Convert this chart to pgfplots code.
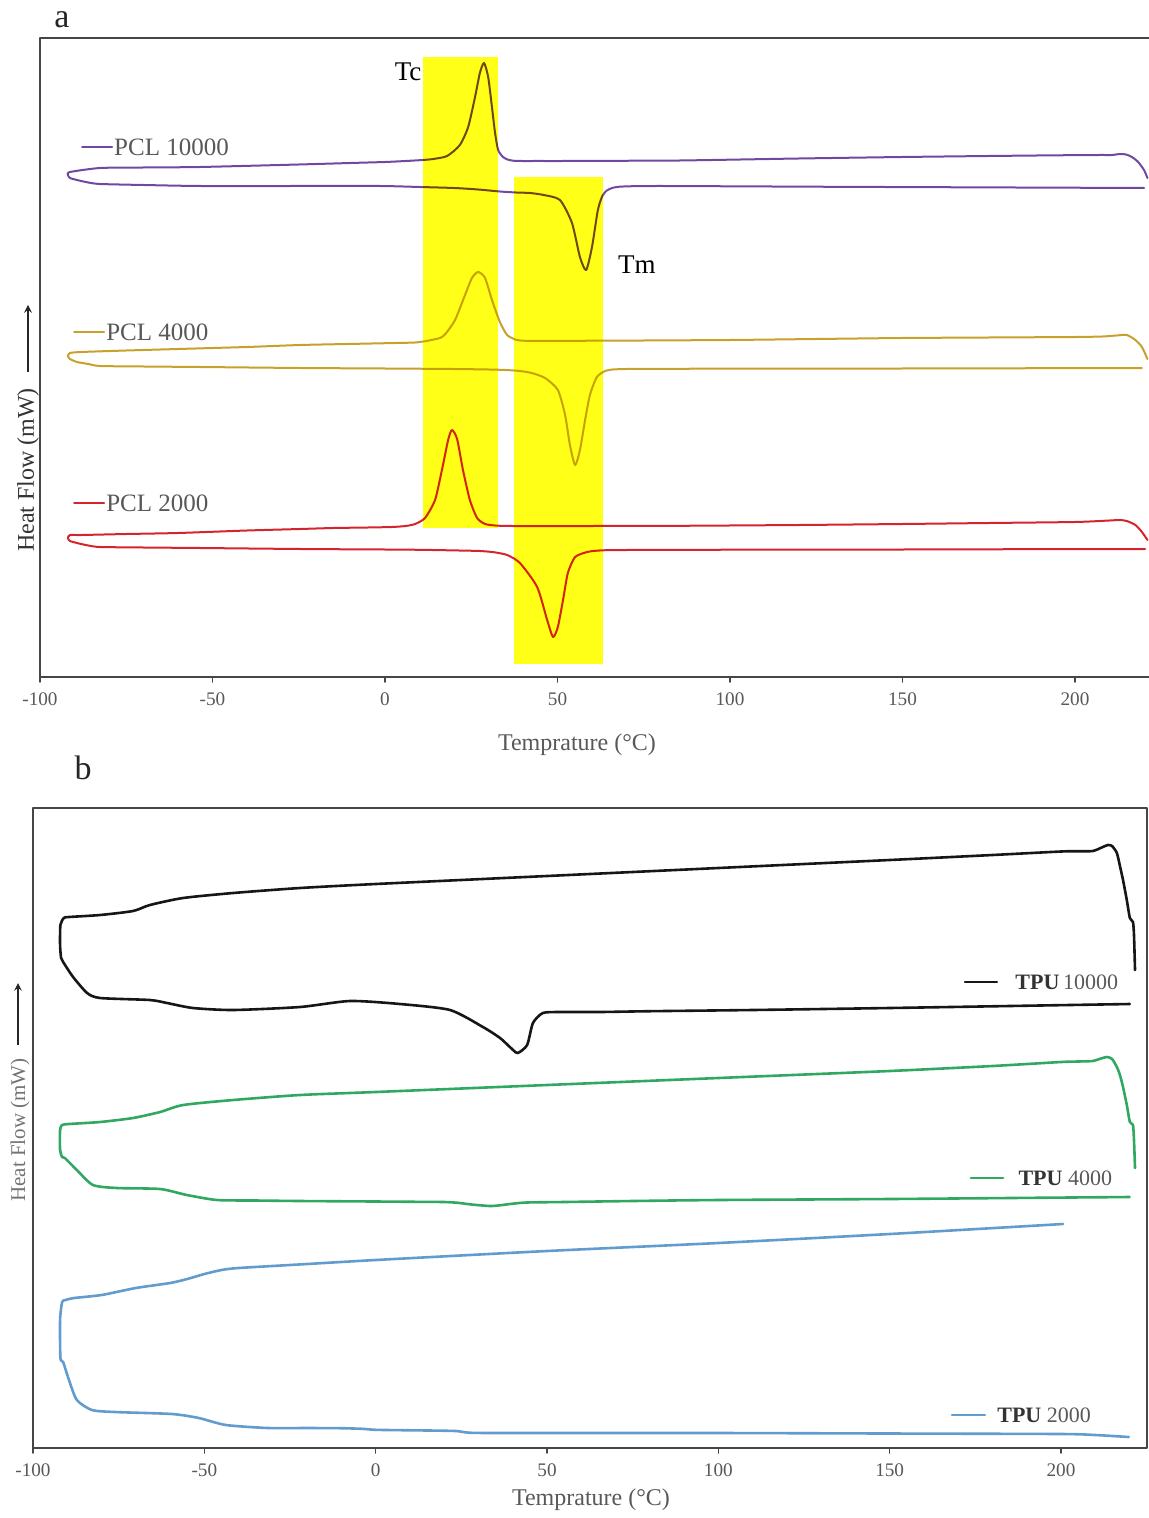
\documentclass[border=0pt]{standalone}
\usepackage{fontspec}
\setmainfont{Liberation Serif}
\usepackage{pgfplots}
\pgfplotsset{compat=1.18}
\definecolor{cpa}{RGB}{112,72,160}
\definecolor{cpb}{RGB}{198,162,42}
\definecolor{cpc}{RGB}{212,36,44}
\definecolor{hy}{RGB}{255,255,24}
\definecolor{tk}{RGB}{22,22,22}
\definecolor{tg}{RGB}{48,168,98}
\definecolor{tb}{RGB}{98,156,206}
\definecolor{axg}{RGB}{70,70,70}
\definecolor{txg}{RGB}{88,88,88}
\pgfplotsset{
  common/.style={
    scale only axis, anchor=south west,
    xtick={-100,-50,0,50,100,150,200},
    xticklabels={-100,-50,0,50,100,150,200},
    ytick=\empty, xtick pos=bottom, tick align=outside,
    major tick length=2.5pt,
    axis line style={line width=0.9pt, draw=axg},
    every tick/.style={line width=0.8pt, draw=axg},
    xticklabel style={font=\fontsize{9.6}{11}\selectfont, text=txg, yshift=-2pt},
    line join=round, line cap=round,
  },
  crv/.style={smooth, tension=0.4},
}
\begin{document}
\begin{tikzpicture}
\useasboundingbox (0,0) rectangle (574.5pt,-759pt);
% ---------------- panel a ----------------
\begin{axis}[common, at={(20pt,-338.5pt)}, width=555.5pt, height=319.5pt,
  xmin=-100, xmax=222.03, ymin=0, ymax=639]
\addplot[cpa, crv, line width=1pt] coordinates {
(221.0,499) (220.0,507) (218.3,515) (216.5,520) (214.8,522.5) (213.0,523) (210.7,522) (207.2,522)
(195,521.7) (175,521) (150,520) (120,518.5) (85.5,516.5) (65,516.2) (52,516) (44,516) (39.5,516) (37.1,516.3)
(35.5,517.5) (34.2,520) (32.8,527) (31.9,544) (31,570) (29.9,600) (28.7,614)
(27.5,604) (26.1,580) (24.1,550) (21.7,532) (18,521) (14,518) (11,517) (6,516) (0,515) (-10,514) (-25,512.5)
(-53.6,510) (-70,509.5) (-82.6,509)
(-91.3,505) (-91.9,502) (-91.3,499) (-89.3,497) (-86,494.5) (-82.6,493) (-70,492) (-53.6,491) (-25,491) (-1.4,491)
(10,490) (20,489) (27,487.5) (33.3,485.5) (38,484.5) (42,484) (46,482) (50.7,477) (54.2,454) (56.5,420) (58.3,407) (60.0,430) (61.7,467)
(63,481) (64.3,486.5) (66,489.2) (68,490.3) (72,490.8) (80,491) (100,490.7) (130,490.2) (160,489.8) (190,489.4) (220,489)};
\addplot[cpb, crv, line width=1pt] coordinates {
(221.0,318) (219.4,330) (217.5,337) (215,342) (212,341.5) (208,340.5) (200,340) (175,339.5) (150,339) (125,338) (100,337)
(75,336.5) (55,336.2) (45,336) (40.5,336.2) (38,337.2) (35.4,342) (33.3,355) (31,377) (29,399) (27,405) (25.2,399) (23.2,382) (20.3,357)
(17.5,343) (15.9,339) (12,336) (8.7,334.5) (3,334) (-8,333.2) (-24.6,332) (-40,330) (-60,328) (-75,326.5) (-88,325) (-91.3,324) (-91.9,321) (-91.3,318) (-89.3,315)
(-86,313) (-82.6,311) (-70,310.5) (-53.6,310) (-24.6,309) (0,308.5) (20,308) (30,307.5) (35,307) (39.1,306) (42.5,304) (46.4,299) (50.1,287)
(52.2,262) (53.6,232) (55.1,212) (56.5,227) (58,257) (59.4,282) (61.4,300) (63.8,306) (66,307.5) (70,308) (80,308.2) (100,308.3)
(150,308.5) (219.4,309)};
\addplot[cpc, crv, line width=1pt] coordinates {
(221.0,137) (219.4,145) (217.5,152) (215,156) (213,157) (210,156.5) (200,155) (175,154) (150,153) (120,152) (85.5,151.2)
(60,151) (45,151) (37,151) (33.5,151.2) (31.9,151.5) (29,153) (26.7,159) (24.6,177) (22.6,207) (20.9,238) (19.4,247) (18.3,237) (16.5,207)
(14.5,177) (11.6,159) (8.7,153) (6,151) (2,150) (-5,149.5) (-15,149) (-24.6,148) (-40,146.5) (-60,144) (-75,143) (-88,142) (-91.3,142) (-91.9,139)
(-91.3,136) (-89.3,134) (-86,131.5) (-82.6,130) (-70,129.5) (-53.6,129) (-24.6,128) (0,127.5) (10,127.2) (20,126.6) (27.5,126) (31.5,124.8)
(35.4,122) (39.1,114) (44.1,90) (47.0,57) (48.7,40) (50.1,50) (51.6,77) (53.0,104) (55.1,120)
(58.6,125) (61,126.2) (64,126.8) (70,127) (85,127.2) (110,127.3) (150,127.5) (185,127.8) (220.3,128)};
% highlight boxes
\addplot[draw=none, fill=hy, blend mode=multiply] coordinates {(11.0,149) (32.8,149) (32.8,620) (11.0,620)} -- cycle;
\addplot[draw=none, fill=hy, blend mode=multiply] coordinates {(37.4,13) (63.2,13) (63.2,500) (37.4,500)} -- cycle;
% labels beside curves
\addplot[cpa, line width=1pt] coordinates {(-87.8,530) (-79.1,530)};
\addplot[cpb, line width=1pt] coordinates {(-90.1,345) (-81.4,345)};
\addplot[cpc, line width=1pt] coordinates {(-90.1,174) (-81.4,174)};
\node[anchor=west, inner sep=0pt, text=txg, font=\fontsize{12.5}{14}\selectfont] at (axis cs:-78.6,530) {PCL 10000};
\node[anchor=west, inner sep=0pt, text=txg, font=\fontsize{12.5}{14}\selectfont] at (axis cs:-80.9,345) {PCL 4000};
\node[anchor=west, inner sep=0pt, text=txg, font=\fontsize{12.5}{14}\selectfont] at (axis cs:-80.9,174) {PCL 2000};
\node[inner sep=0pt, font=\fontsize{13.5}{15}\selectfont] at (axis cs:6.7,605) {Tc};
\node[inner sep=0pt, font=\fontsize{13.5}{15}\selectfont] at (axis cs:73.0,412) {Tm};
\end{axis}
% ---------------- panel b ----------------
\begin{axis}[common, at={(16.5pt,-724pt)}, width=557pt, height=320pt,
  xmin=-100, xmax=225.1, ymin=0, ymax=640]
\addplot[tk, crv, line width=1.3pt] coordinates {
(221.6,478) (221.3,513) (221.0,526) (220.1,530) (219.2,548) (218.1,568) (217.2,582) (216.3,595)
(214.9,602) (213.7,603) (212.2,601) (209.3,597) (205,596.8) (200,596.5) (180,593) (150,588) (100,580) (50,572) (0,564)
(-22.1,560) (-41.6,555) (-56.2,550) (-65.9,543) (-70.8,537) (-80.4,533) (-89.5,531) (-91,530)
(-92,523) (-92.1,503) (-91.8,490) (-91.2,486) (-88.3,471) (-84.2,455) (-80.4,450) (-65.9,448)
(-60.9,445) (-53.3,440) (-41.6,438) (-22.1,441) (-7.5,447) (7.1,444) (21.7,438) (31.3,421)
(36.3,410) (40.1,398) (41.5,395) (44.2,403) (45.9,425) (48.8,435) (53.8,436) (65.5,436) (80,436.8) (110,438) (150,440)
(185,442) (220.1,444)};
\addplot[tg, crv, line width=1.3pt] coordinates {
(221.6,280) (221.3,308) (221.0,323) (220.1,326) (219.2,343) (218.1,361) (217.2,373) (216.3,381)
(214.9,389) (213.4,391) (211.2,389) (209.3,387) (205,386.5) (200,386) (180,382) (150,377) (100,370) (50,363) (0,356)
(-22.1,353) (-41.6,348) (-56.2,343) (-62.9,336) (-70.8,330) (-80.4,326) (-89.5,324) (-91.5,323)
(-92.1,318) (-92.1,298) (-91.5,291) (-90.7,290) (-87.2,278) (-82.5,263) (-75.5,260) (-62.9,259)
(-55.1,253) (-46.3,248) (-35,247.5) (-22.1,247) (0,246.5) (12,246.2) (20,246) (24,245.2) (28,243.5) (33.4,242) (36.5,242.8) (39.2,244) (44,245.5) (55,246) (75,247) (100,248)
(150,249) (185,250) (220,251)};
\addplot[tb, crv, line width=1.3pt] coordinates {
(200.6,224) (150,214) (100,205) (50,197) (0,188) (-20,184) (-40,180) (-45,178) (-50,174) (-55,169)
(-60,165) (-70,160) (-80,153) (-88,150) (-90.5,148) (-91.5,146) (-92.1,128) (-92,90) (-91.2,86)
(-89.5,68) (-87.2,48) (-82.8,38) (-76.1,36) (-59.4,34) (-51.6,30) (-43.7,23) (-31.4,20) (-20,20) (-10,19.8) (-4,19.2)
(0,18.2) (8,17.8) (18,17.4) (23.5,17) (25.5,16) (28,15.2) (35,15) (55,15) (100,15) (150,14.5) (200,14) (210,13) (219.8,11)};
\addplot[tk, line width=1.3pt] coordinates {(172.0,466) (181.3,466)};
\addplot[tg, line width=1.3pt] coordinates {(173.7,270) (183.1,270)};
\addplot[tb, line width=1.3pt] coordinates {(168.2,33) (177.8,33)};
\node[anchor=west, inner sep=0pt, font=\fontsize{11}{13}\selectfont] at (axis cs:186.6,466) {\textcolor{black!80}{\textbf{TPU}}\,\textcolor{txg}{10000}};
\node[anchor=west, inner sep=0pt, font=\fontsize{11}{13}\selectfont] at (axis cs:187.5,270) {\textcolor{black!80}{\textbf{TPU}} \textcolor{txg}{4000}};
\node[anchor=west, inner sep=0pt, font=\fontsize{11}{13}\selectfont] at (axis cs:181.3,33) {\textcolor{black!80}{\textbf{TPU}} \textcolor{txg}{2000}};
\end{axis}
% ---------------- outer labels ----------------
\node[font=\fontsize{17}{19}\selectfont, text=black!85] at (31pt,-10pt) {a};
\node[font=\fontsize{17}{19}\selectfont, text=black!85] at (41.5pt,-384pt) {b};
\node[font=\fontsize{12}{14}\selectfont, text=txg] at (288.5pt,-372.5pt) {Temprature (°C)};
\node[font=\fontsize{12}{14}\selectfont, text=txg] at (295.5pt,-750pt) {Temprature (°C)};
\node[rotate=90, font=\fontsize{12}{14}\selectfont, text=black!80] at (14pt,-235pt) {Heat Flow (mW)};
\draw[->, >=stealth, line width=0.7pt, black!85] (14pt,-186pt) -- (14pt,-152.5pt);
\node[rotate=90, font=\fontsize{10.5}{12}\selectfont, text=black!55] at (10pt,-565pt) {Heat Flow (mW)};
\draw[->, >=stealth, line width=0.7pt, black!85] (9pt,-522.5pt) -- (9pt,-491.5pt);
\end{tikzpicture}
\end{document}
